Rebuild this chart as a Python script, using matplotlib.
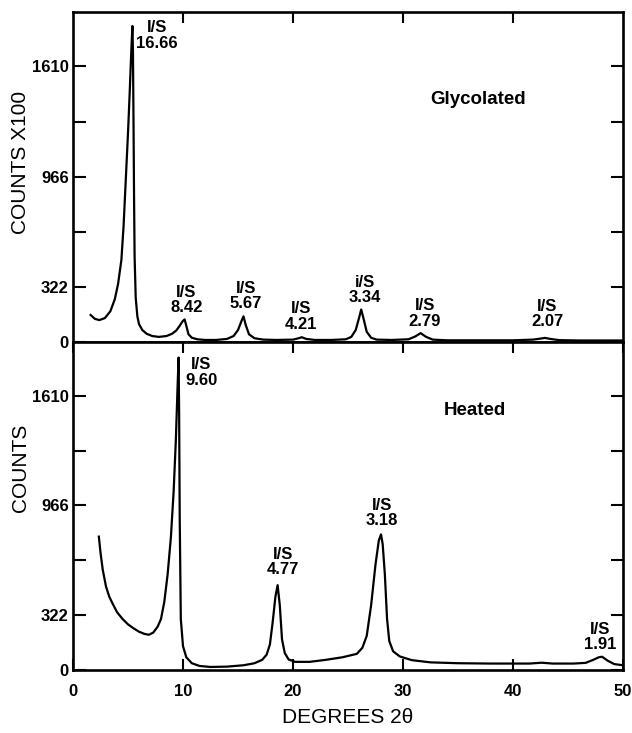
import matplotlib
matplotlib.use("Agg")
import matplotlib.pyplot as plt
from matplotlib.ticker import FixedLocator

# ---------------- data ----------------
glyc_x = [1.6, 2.0, 2.4, 2.9, 3.4, 3.8, 4.1, 4.4, 4.6, 4.8, 5.0, 5.15, 5.3, 5.4, 5.45,
          5.5, 5.55, 5.6, 5.7, 5.85, 6.0, 6.3, 6.7, 7.2, 7.8, 8.5, 9.0, 9.4, 9.7, 9.95,
          10.15, 10.3, 10.5, 10.8, 11.3, 12.0, 13.0, 14.0, 14.6, 15.0, 15.3, 15.5, 15.7,
          16.0, 16.5, 17.3, 18.5, 20.0, 20.5, 20.8, 21.2, 22.0, 23.5, 24.8, 25.3, 25.7,
          26.0, 26.2, 26.4, 26.7, 27.1, 27.6, 29.0, 30.5, 31.1, 31.6, 32.1, 32.7, 34.0,
          37.0, 40.0, 41.8, 42.5, 42.9, 43.4, 44.2, 46.0, 48.0, 50.0]
glyc_y = [158, 135, 128, 140, 180, 250, 340, 480, 680, 950, 1220, 1450, 1700, 1846, 1700,
          1300, 850, 500, 260, 150, 105, 70, 48, 35, 30, 35, 48, 68, 95, 120,
          132, 95, 45, 25, 16, 12, 12, 18, 35, 70, 120, 150, 100,
          45, 22, 14, 12, 14, 22, 28, 18, 12, 12, 16, 30, 70,
          140, 190, 140, 60, 25, 14, 12, 16, 32, 52, 30, 14, 10,
          10, 10, 14, 20, 24, 18, 11, 9, 9, 9]

heat_x = [2.35, 2.5, 2.7, 3.0, 3.3, 3.6, 4.0, 4.5, 5.0, 5.5, 6.0, 6.5, 6.9, 7.3, 7.7,
          8.0, 8.3, 8.6, 8.9, 9.15, 9.35, 9.5, 9.6, 9.65, 9.7, 9.8, 10.0, 10.3, 10.8,
          11.5, 12.5, 14.0, 15.5, 16.5, 17.2, 17.6, 17.9, 18.15, 18.4, 18.6, 18.8, 19.0,
          19.25, 19.6, 20.2, 21.5, 23.0, 24.5, 25.8, 26.3, 26.7, 27.1, 27.5, 27.8, 28.0,
          28.15, 28.35, 28.55, 28.75, 29.1, 29.7, 30.8, 32.5, 35.0, 38.0, 41.5, 42.6,
          43.6, 45.5, 46.6, 47.3, 47.8, 48.1, 48.6, 49.2, 50.0]
heat_y = [783, 690, 590, 490, 430, 390, 340, 300, 268, 245, 225, 212, 207, 220, 255,
          300, 400, 560, 780, 1050, 1350, 1650, 1834, 1500, 900, 300, 140, 75, 40,
          24, 18, 20, 28, 40, 60, 90, 150, 280, 430, 498, 380, 180,
          100, 62, 48, 48, 60, 75, 95, 130, 200, 380, 620, 760, 796,
          740, 560, 300, 170, 110, 80, 58, 45, 40, 38, 38, 43,
          38, 38, 42, 60, 75, 78, 55, 35, 28]

y_ticks = [0, 322, 966, 1610]
y_minor = [644, 1288]
x_ticks = [0, 10, 20, 30, 40, 50]

glyc_labels = ["I/S\n16.66", "I/S\n8.42", "I/S\n5.67", "I/S\n4.21", "i/S\n3.34", "I/S\n2.79", "I/S\n2.07"]
glyc_lx = [7.6, 10.3, 15.7, 20.7, 26.5, 32.0, 43.1]
glyc_ly = [1790, 246, 269, 149, 304, 168, 164]

heat_labels = ["I/S\n9.60", "I/S\n4.77", "I/S\n3.18", "I/S\n1.91"]
heat_lx = [11.65, 19.1, 28.1, 47.9]
heat_ly = [1747, 634, 922, 195]

# ---------------- styling ----------------
plt.rcParams['font.family'] = ['Liberation Sans', 'DejaVu Sans']
tick_font = dict(family=['Liberation Sans', 'DejaVu Sans'], weight='bold', size=12)
label_font = dict(family=['Liberation Sans', 'DejaVu Sans'], size=15)

fig = plt.figure(figsize=(6.32, 7.33), dpi=100)
ax1 = fig.add_axes([0.1155, 0.5334, 0.8703, 0.4496])
ax2 = fig.add_axes([0.1155, 0.0859, 0.8703, 0.4475])

for ax in (ax1, ax2):
    ax.set_xlim(0, 50)
    ax.set_ylim(0, 1925)
    for s in ax.spines.values():
        s.set_linewidth(1.9)
    ax.yaxis.set_major_locator(FixedLocator(y_ticks))
    ax.yaxis.set_minor_locator(FixedLocator(y_minor))
    ax.tick_params(axis='y', which='both', direction='in', left=True, right=True,
                   length=9, width=1.5, pad=3)
    ax.set_yticklabels([str(v) for v in y_ticks], **tick_font)

# x axes
ax1.set_xticks([10, 20, 30, 40])
ax1.tick_params(axis='x', which='both', direction='in', top=True, bottom=False,
                labelbottom=False, length=8, width=1.5)
ax2.set_xticks(x_ticks)
ax2.set_xticklabels([str(v) for v in x_ticks], **tick_font)
ax2.tick_params(axis='x', which='both', direction='in', top=True, bottom=True,
                length=8, width=1.5, pad=10)

ax1.plot(glyc_x, glyc_y, color='black', lw=1.6, solid_joinstyle='round')
ax2.plot(heat_x, heat_y, color='black', lw=1.6, solid_joinstyle='round')

ann_font = dict(family=['Liberation Sans', 'DejaVu Sans'], weight='bold', size=12)
for t, x, y in zip(glyc_labels, glyc_lx, glyc_ly):
    ax1.text(x, y, t, ha='center', va='center', linespacing=1.05, **ann_font)
for t, x, y in zip(heat_labels, heat_lx, heat_ly):
    ax2.text(x, y, t, ha='center', va='center', linespacing=1.05, **ann_font)

ax1.text(36.8, 1417, "Glycolated", ha='center', va='center',
         family=['Liberation Sans', 'DejaVu Sans'], weight='bold', size=13.5)
ax2.text(36.5, 1522, "Heated", ha='center', va='center',
         family=['Liberation Sans', 'DejaVu Sans'], weight='bold', size=13.5)

ax1.set_ylabel("COUNTS X100", **label_font)
ax1.yaxis.set_label_coords(-0.096, 0.546)
ax2.set_ylabel("COUNTS", **label_font)
ax2.yaxis.set_label_coords(-0.096, 0.616)
ax2.set_xlabel("DEGREES 2θ", **label_font)
ax2.xaxis.set_label_coords(0.5, -0.146)
ax2.xaxis.label.set_va('center')
ax1.yaxis.label.set_va('center')
ax2.yaxis.label.set_va('center')

fig.savefig("out.png", dpi=100, facecolor='white')
